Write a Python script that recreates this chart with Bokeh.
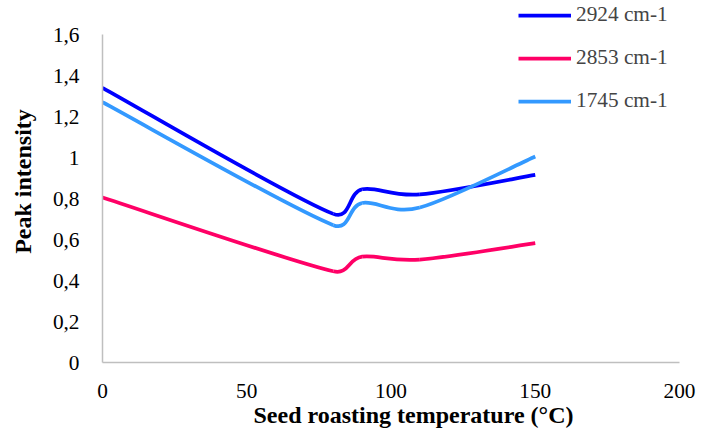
import math
from bokeh.plotting import figure
from bokeh.models import (ColumnDataSource, FixedTicker, CustomJSTickFormatter,
                          Legend, LegendItem, Title, Range1d)
from bokeh.embed import file_html
from bokeh.resources import INLINE

# ---- data ----
temperature = [0, 80, 90, 110, 150]
peak_2924 = [1.34, 0.725, 0.845, 0.82, 0.915]
peak_2853 = [0.805, 0.445, 0.516, 0.502, 0.582]
peak_1745 = [1.27, 0.67, 0.778, 0.756, 1.005]
series_labels = ["2924 cm-1", "2853 cm-1", "1745 cm-1"]
series_colors = ["#0000FF", "#FF0066", "#3399FF"]
x_ticks = [0, 50, 100, 150, 200]
y_ticks = [0, 0.2, 0.4, 0.6, 0.8, 1.0, 1.2, 1.4, 1.6]
y_axis_bounds = (0, 1.6)

FONT = "'Liberation Serif', 'Times New Roman', serif"
TICK_SIZE = "21.3px"
TITLE_SIZE = "24px"

# layout: plot area 577 x 328 px for 0..200 x 0..1.6; extra 34 px above for the legend
FRAME_W, AXIS_H, TOP_PAD = 577, 328, 34
X_RANGE = (0, 200)
SX = FRAME_W / (X_RANGE[1] - X_RANGE[0])
SY = AXIS_H / (y_axis_bounds[1] - y_axis_bounds[0])
Y_RANGE = (0, y_axis_bounds[1] + TOP_PAD / SY)


def smooth_segments(xs, ys):
    """Excel-like smoothed line: Bezier control points through the data points."""
    n = len(xs)
    px = [x * SX for x in xs]
    py = [y * SY for y in ys]

    def dist(i, j):
        return math.hypot(px[j] - px[i], py[j] - py[i])

    cout, cin = [None] * n, [None] * n
    for i in range(n):
        a, b = max(i - 1, 0), min(i + 1, n - 1)
        tx, ty = px[b] - px[a], py[b] - py[a]
        tl = math.hypot(tx, ty) or 1.0
        ux, uy = tx / tl, ty / tl
        arm = tl / 6
        arm_in = min(arm, dist(i - 1, i) / 2) if i > 0 else 0
        arm_out = min(arm, dist(i, i + 1) / 2) if i < n - 1 else 0
        cout[i] = ((px[i] + ux * arm_out) / SX, (py[i] + uy * arm_out) / SY)
        cin[i] = ((px[i] - ux * arm_in) / SX, (py[i] - uy * arm_in) / SY)
    return dict(
        x0=xs[:-1], y0=ys[:-1], x1=xs[1:], y1=ys[1:],
        cx0=[c[0] for c in cout[:-1]], cy0=[c[1] for c in cout[:-1]],
        cx1=[c[0] for c in cin[1:]], cy1=[c[1] for c in cin[1:]],
    )


p = figure(width=714, height=439, output_backend="svg", toolbar_location=None,
           x_range=Range1d(*X_RANGE), y_range=Range1d(*Y_RANGE),
           min_border_left=102, min_border_right=35, min_border_top=0,
           min_border_bottom=77)
p.outline_line_color = None
p.xgrid.visible = False
p.ygrid.visible = False

renderers = []
for vals, col in zip([peak_2924, peak_2853, peak_1745], series_colors):
    src = ColumnDataSource(smooth_segments(temperature, vals))
    r = p.bezier(x0="x0", y0="y0", x1="x1", y1="y1", cx0="cx0", cy0="cy0",
                 cx1="cx1", cy1="cy1", source=src, line_color=col, line_width=3.75)
    renderers.append(r)

for ax in (p.xaxis[0], p.yaxis[0]):
    ax.axis_line_color = "#BFBFBF"
    ax.axis_line_width = 1.5
    ax.major_tick_line_color = None
    ax.minor_tick_line_color = None
    ax.major_label_text_font = FONT
    ax.major_label_text_font_size = TICK_SIZE
    ax.major_label_text_color = "#000000"

p.xaxis.ticker = FixedTicker(ticks=x_ticks)
p.xaxis.major_label_standoff = 15
p.yaxis.ticker = FixedTicker(ticks=y_ticks)
p.yaxis.bounds = y_axis_bounds
p.yaxis.major_label_standoff = 17
p.yaxis.formatter = CustomJSTickFormatter(
    code="const s = (Math.round(tick*10)/10).toString(); return s.replace('.', ',');")

p.yaxis.axis_label = "Peak intensity"
p.yaxis.axis_label_text_font = FONT
p.yaxis.axis_label_text_font_size = TITLE_SIZE
p.yaxis.axis_label_text_font_style = "bold"
p.yaxis.axis_label_text_color = "#000000"
p.yaxis.axis_label_standoff = 14

p.add_layout(Title(text="Seed roasting temperature (°C)", align="left", offset=151,
                   text_font=FONT, text_font_size=TITLE_SIZE, text_font_style="bold",
                   text_color="#000000", standoff=-2), "below")

legend = Legend(items=[LegendItem(label=lab, renderers=[r])
                       for lab, r in zip(series_labels, renderers)],
                location=(416, 249), border_line_color=None,
                background_fill_alpha=0, padding=0, margin=0, spacing=18,
                glyph_width=53, glyph_height=24, label_height=24,
                label_standoff=5, label_text_font=FONT,
                label_text_font_size=TICK_SIZE)
p.add_layout(legend)

open("out.html", "w").write(file_html(p, INLINE))
